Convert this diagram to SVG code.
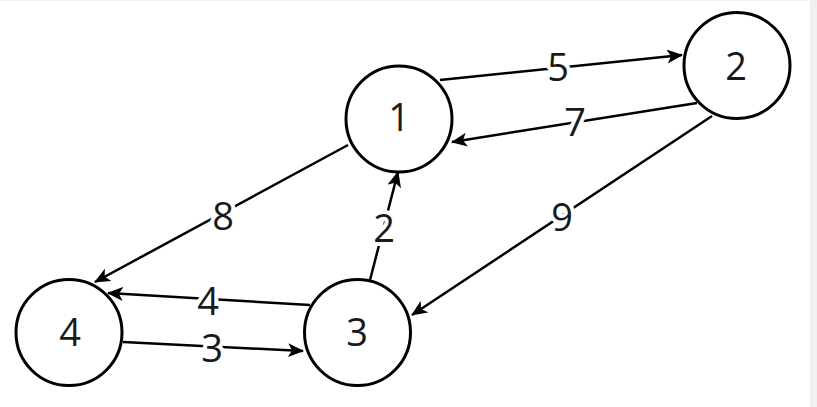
<svg xmlns="http://www.w3.org/2000/svg" width="817" height="407" viewBox="0 0 817 407">
<defs>
<marker id="arr" markerUnits="userSpaceOnUse" markerWidth="16" markerHeight="14" viewBox="0 0 16 14" refX="15" refY="7" orient="auto">
<path d="M0,0 L16,7 L0,14 L4,7 z" fill="#000"/>
</marker>
<style>
.node circle{fill:#fff;stroke:#000;stroke-width:3}
.node text{font-family:"Open Sans","Noto Sans",sans-serif;font-size:38px;fill:#1a1a1a;text-anchor:middle}
.edges line{stroke:#000;stroke-width:2.5;marker-end:url(#arr)}
.edges text{font-family:"Open Sans","Noto Sans",sans-serif;font-size:38px;fill:#1a1a1a;text-anchor:middle;stroke:#fff;stroke-width:8;paint-order:stroke fill;stroke-linejoin:round}
</style>
</defs>
<rect x="0" y="0" width="817" height="407" fill="#fff"/>
<rect x="810" y="0" width="7" height="407" fill="#f0f0f0"/>
<rect x="0" y="0" width="810" height="1" fill="#f2f2f2"/>
<g class="edges" id="edges">
<line x1="440" y1="80" x2="682" y2="55"/>
<line x1="697" y1="103" x2="452" y2="142"/>
<line x1="712" y1="116" x2="412" y2="315"/>
<line x1="348" y1="145" x2="95" y2="282"/>
<line x1="370" y1="280" x2="398" y2="172"/>
<line x1="310" y1="305" x2="108" y2="293"/>
<line x1="123" y1="342" x2="303" y2="351"/>
<text x="558" y="81">5</text>
<text x="575" y="136">7</text>
<text x="562" y="231">9</text>
<text x="223" y="230">8</text>
<text x="384" y="242">2</text>
<text x="208" y="315">4</text>
<text x="212" y="362">3</text>
</g>
<g class="node" id="node1"><circle cx="399" cy="119" r="53"/><text x="399" y="131">1</text></g>
<g class="node" id="node2"><circle cx="737" cy="65.5" r="53"/><text x="736" y="80">2</text></g>
<g class="node" id="node3"><circle cx="357.5" cy="332.5" r="53"/><text x="357" y="346">3</text></g>
<g class="node" id="node4"><circle cx="69" cy="332.5" r="53"/><text x="70" y="346">4</text></g>
</svg>
